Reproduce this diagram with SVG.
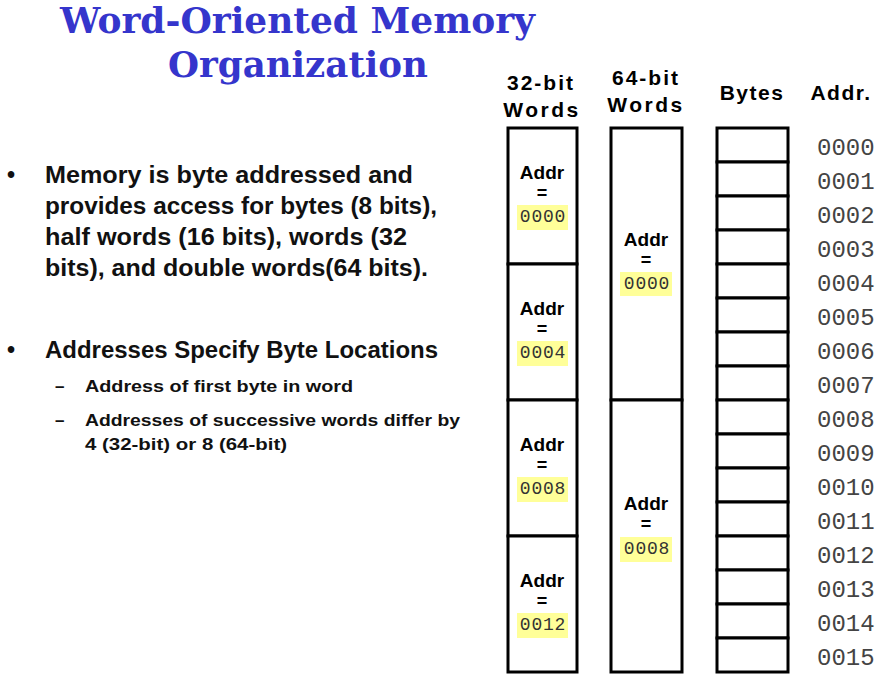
<svg xmlns="http://www.w3.org/2000/svg" width="877" height="674" viewBox="0 0 877 674">
<style>
.title{font-family:"DejaVu Serif","Liberation Serif",serif;font-weight:bold;font-size:35px;fill:#3535CC}
.b1{font-family:"Liberation Sans",Arial,sans-serif;font-weight:bold;font-size:23px;fill:#111}
.b2{font-family:"Liberation Sans",Arial,sans-serif;font-weight:bold;font-size:17px;fill:#111}
.hdr{font-family:"Liberation Sans",Arial,sans-serif;font-weight:bold;font-size:21px;fill:#000;text-anchor:middle}
.cell{fill:#fff;stroke:#000;stroke-width:3}
.lbl{font-family:"Liberation Sans",Arial,sans-serif;font-weight:bold;font-size:19px;fill:#000;text-anchor:middle}
.eq{font-family:"Liberation Sans",Arial,sans-serif;font-weight:bold;font-size:18px;fill:#000;text-anchor:middle}
.hl{fill:#FFFF99}
.num{font-family:"Liberation Mono","Courier New",monospace;font-size:18px;fill:#333;text-anchor:middle;letter-spacing:0.8px}
.addr{font-family:"Liberation Mono","Courier New",monospace;font-size:24px;fill:#444}
</style>
<rect width="877" height="674" fill="#fff"/>
<g id="title">
<text class="title" x="60" y="33" textLength="475" lengthAdjust="spacingAndGlyphs">Word-Oriented Memory</text>
<text class="title" x="168" y="77" textLength="260" lengthAdjust="spacingAndGlyphs">Organization</text>
</g>
<g id="bullets">
<text class="b1" x="7" y="183">•</text>
<text class="b1" x="45" y="183" textLength="368" lengthAdjust="spacingAndGlyphs">Memory is byte addressed and</text>
<text class="b1" x="45" y="214" textLength="392" lengthAdjust="spacingAndGlyphs">provides access for bytes (8 bits),</text>
<text class="b1" x="45" y="245" textLength="362" lengthAdjust="spacingAndGlyphs">half words (16 bits), words (32</text>
<text class="b1" x="45" y="276" textLength="383" lengthAdjust="spacingAndGlyphs">bits), and double words(64 bits).</text>
<text class="b1" x="7" y="358">•</text>
<text class="b1" x="45" y="358" textLength="393" lengthAdjust="spacingAndGlyphs">Addresses Specify Byte Locations</text>
<text class="b2" x="55" y="392">–</text>
<text class="b2" x="85" y="392" textLength="268" lengthAdjust="spacingAndGlyphs">Address of first byte in word</text>
<text class="b2" x="55" y="426">–</text>
<text class="b2" x="85" y="426" textLength="375" lengthAdjust="spacingAndGlyphs">Addresses of successive  words differ by</text>
<text class="b2" x="85" y="450" textLength="202" lengthAdjust="spacingAndGlyphs">4 (32-bit) or 8 (64-bit)</text>
</g>
<g id="headers">
<text class="hdr" x="541" y="90" letter-spacing="2">32-bit</text>
<text class="hdr" x="542" y="117" letter-spacing="2.5">Words</text>
<text class="hdr" x="646" y="85" letter-spacing="2">64-bit</text>
<text class="hdr" x="646" y="112" letter-spacing="2.5">Words</text>
<text class="hdr" x="752" y="100" letter-spacing="1.5">Bytes</text>
<text class="hdr" x="841" y="100" letter-spacing="1.5">Addr.</text>
</g>
<g id="word32-0000">
<rect class="cell" x="508" y="128" width="69" height="136"/>
<text class="lbl" x="542" y="179">Addr</text>
<text class="eq" x="542" y="199">=</text>
<rect class="hl" x="517" y="205" width="51" height="25"/>
<text class="num" x="543" y="222">0000</text>
</g>
<g id="word32-0004">
<rect class="cell" x="508" y="264" width="69" height="136"/>
<text class="lbl" x="542" y="315">Addr</text>
<text class="eq" x="542" y="335">=</text>
<rect class="hl" x="517" y="341" width="51" height="25"/>
<text class="num" x="543" y="358">0004</text>
</g>
<g id="word32-0008">
<rect class="cell" x="508" y="400" width="69" height="136"/>
<text class="lbl" x="542" y="451">Addr</text>
<text class="eq" x="542" y="471">=</text>
<rect class="hl" x="517" y="477" width="51" height="25"/>
<text class="num" x="543" y="494">0008</text>
</g>
<g id="word32-0012">
<rect class="cell" x="508" y="536" width="69" height="136"/>
<text class="lbl" x="542" y="587">Addr</text>
<text class="eq" x="542" y="607">=</text>
<rect class="hl" x="517" y="613" width="51" height="25"/>
<text class="num" x="543" y="630">0012</text>
</g>
<g id="word64-0000">
<rect class="cell" x="611" y="128" width="71" height="272"/>
<text class="lbl" x="646" y="246">Addr</text>
<text class="eq" x="646" y="266">=</text>
<rect class="hl" x="620" y="272" width="52" height="24"/>
<text class="num" x="647" y="289">0000</text>
</g>
<g id="word64-0008">
<rect class="cell" x="611" y="400" width="71" height="272"/>
<text class="lbl" x="646" y="510">Addr</text>
<text class="eq" x="646" y="530">=</text>
<rect class="hl" x="620" y="537" width="52" height="25"/>
<text class="num" x="647" y="554">0008</text>
</g>
<g id="bytes">
<rect class="cell" x="717" y="128" width="71" height="34"/>
<rect class="cell" x="717" y="162" width="71" height="34"/>
<rect class="cell" x="717" y="196" width="71" height="34"/>
<rect class="cell" x="717" y="230" width="71" height="34"/>
<rect class="cell" x="717" y="264" width="71" height="34"/>
<rect class="cell" x="717" y="298" width="71" height="34"/>
<rect class="cell" x="717" y="332" width="71" height="34"/>
<rect class="cell" x="717" y="366" width="71" height="34"/>
<rect class="cell" x="717" y="400" width="71" height="34"/>
<rect class="cell" x="717" y="434" width="71" height="34"/>
<rect class="cell" x="717" y="468" width="71" height="34"/>
<rect class="cell" x="717" y="502" width="71" height="34"/>
<rect class="cell" x="717" y="536" width="71" height="34"/>
<rect class="cell" x="717" y="570" width="71" height="34"/>
<rect class="cell" x="717" y="604" width="71" height="34"/>
<rect class="cell" x="717" y="638" width="71" height="34"/>
</g>
<g id="addresses">
<text class="addr" x="817" y="155">0000</text>
<text class="addr" x="817" y="189">0001</text>
<text class="addr" x="817" y="223">0002</text>
<text class="addr" x="817" y="257">0003</text>
<text class="addr" x="817" y="291">0004</text>
<text class="addr" x="817" y="325">0005</text>
<text class="addr" x="817" y="359">0006</text>
<text class="addr" x="817" y="393">0007</text>
<text class="addr" x="817" y="427">0008</text>
<text class="addr" x="817" y="461">0009</text>
<text class="addr" x="817" y="495">0010</text>
<text class="addr" x="817" y="529">0011</text>
<text class="addr" x="817" y="563">0012</text>
<text class="addr" x="817" y="597">0013</text>
<text class="addr" x="817" y="631">0014</text>
<text class="addr" x="817" y="665">0015</text>
</g>
</svg>
